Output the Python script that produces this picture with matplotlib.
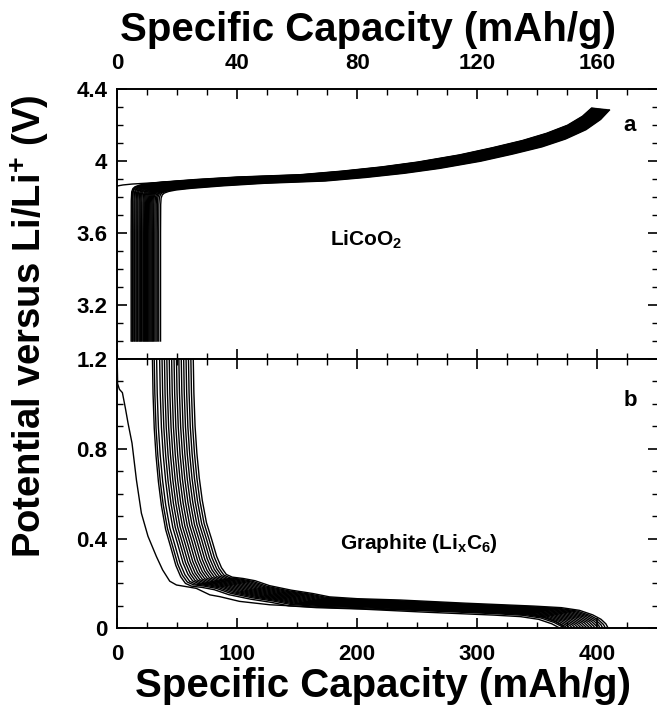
import matplotlib
matplotlib.use("Agg")
import matplotlib.pyplot as plt
import numpy as np
from matplotlib.ticker import MultipleLocator, FixedLocator, FuncFormatter

# ---------------- data ----------------
# LiCoO2 reference charge curve (earliest-start cycle), capacity mAh/g vs V
lc_cap = [4.7, 4.7, 4.75, 4.9, 5.3, 6.0, 7.5, 10, 15, 26, 40, 61, 75, 88, 100, 114, 125, 135, 143, 150, 155, 158]
lc_volt = [3.0, 3.6, 3.78, 3.83, 3.848, 3.858, 3.867, 3.875, 3.884, 3.898, 3.912, 3.925, 3.945,
           3.968, 3.995, 4.035, 4.075, 4.115, 4.155, 4.20, 4.25, 4.295]
# how strongly the per-cycle voltage offset applies along the curve
lc_dv_weight = [0, 0, 0.6, 1, 1, 1, 1, 1, 1, 1, 1, 1, 1, 1, 1, 1, 1, 1, 0.9, 0.7, 0.5, 0.3]
# per-cycle start / end capacity and voltage offset (LiCoO2)
lc_start = [4.7, 5.0, 5.2, 5.6, 5.9, 6.3, 6.6, 6.9, 7.3, 7.6, 7.9, 8.2, 8.6, 8.9, 9.2, 9.5,
            9.8, 10.1, 10.4, 10.7, 11.0, 11.3, 11.6, 11.9, 12.2, 12.6, 13.0, 13.4, 13.9, 14.5]
lc_end = [158.0, 158.2, 158.4, 158.6, 158.8, 159.0, 159.2, 159.4, 159.6, 159.8, 160.0, 160.2,
          160.4, 160.6, 160.8, 161.0, 161.2, 161.4, 161.6, 161.8, 162.0, 162.2, 162.4, 162.6,
          162.8, 163.0, 163.2, 163.5, 163.8, 164.0]
lc_dv = [0.0, 0.001, 0.002, 0.004, 0.005, 0.006, 0.008, 0.009, 0.010, 0.012, 0.013, 0.014,
         0.016, 0.017, 0.018, 0.019, 0.021, 0.022, 0.023, 0.024, 0.025, 0.026, 0.027, 0.028,
         0.029, 0.030, 0.031, 0.032, 0.033, 0.035]
# LiCoO2 first charge (from open circuit)
lc1_cap = [0, 2, 5, 10, 20, 30]
lc1_volt = [3.862, 3.868, 3.873, 3.878, 3.888, 3.896]

# Graphite reference discharge curve (latest-start cycle)
gr_cap = [63.5, 64.0, 65.0, 66.5, 68.5, 71.0, 74.5, 78.6, 83.0, 87.0, 91.0, 96.0, 105, 115, 127,
          145, 163, 177, 200, 236, 290, 347, 370, 385, 396, 403, 407, 409]
gr_volt = [1.20, 1.05, 0.90, 0.78, 0.67, 0.57, 0.47, 0.40, 0.32, 0.27, 0.24, 0.228, 0.222, 0.212,
           0.19, 0.17, 0.155, 0.14, 0.132, 0.126, 0.112, 0.099, 0.092, 0.08, 0.06, 0.04, 0.02, 0.0]
gr_dv_weight = [0, 0.1, 0.2, 0.3, 0.45, 0.6, 0.75, 0.9, 1, 1, 1, 1, 1, 1, 1,
                1, 1, 1, 1, 1, 1, 1, 1, 1, 1, 1, 1, 1]
gr_start = [29.5, 31.0, 33.0, 35.5, 37.5, 39.5, 41.5, 43.5, 45.5, 47.5, 49.5, 51.5, 53.5, 55.5,
            57.5, 59.5, 61.5, 63.5]
gr_end = [375, 377, 379, 381, 383, 385, 387, 389, 391, 393, 395, 397, 399, 401, 403, 405, 407, 409]
gr_dv = [0.040, 0.034, 0.031, 0.029, 0.027, 0.025, 0.023, 0.021, 0.019, 0.017, 0.015, 0.013,
         0.011, 0.009, 0.007, 0.005, 0.003, 0.0]
# Graphite first cycle
gr1_cap = [0, 0.5, 2, 4.5, 7, 9.2, 12.5, 16.2, 20.3, 25.8, 32.8, 38, 43.9, 49.5, 60.6, 66, 77.3,
           85.6, 102, 127, 160, 200, 250, 300, 340, 355, 365, 370, 373]
gr1_volt = [1.25, 1.09, 1.065, 1.05, 0.98, 0.914, 0.825, 0.66, 0.513, 0.41, 0.32, 0.26, 0.21,
            0.193, 0.183, 0.178, 0.149, 0.141, 0.12, 0.105, 0.096, 0.088, 0.080, 0.074, 0.066,
            0.05, 0.03, 0.015, 0.0]

top_xticks = [0, 40, 80, 120, 160]
top_yticks = [3.2, 3.6, 4.0, 4.4]
bot_xticks = [0, 100, 200, 300, 400]
bot_yticks = [0, 0.4, 0.8, 1.2]

# ---------------- style ----------------
plt.rcParams['font.family'] = ['Liberation Sans', 'DejaVu Sans']
plt.rcParams['font.weight'] = 'bold'
plt.rcParams['mathtext.fontset'] = 'custom'
plt.rcParams['mathtext.rm'] = 'Liberation Sans:bold'
plt.rcParams['mathtext.it'] = 'Liberation Sans:bold'
plt.rcParams['mathtext.bf'] = 'Liberation Sans:bold'

W, H = 657, 708
fig = plt.figure(figsize=(W / 100, H / 100), dpi=100)

x0 = 117 / W
wax = (657.5 - 117) / W
ax1 = fig.add_axes([x0, (H - 359) / H, wax, (359 - 89.3) / H])
ax2 = fig.add_axes([x0, (H - 628.3) / H, wax, (628.3 - 359) / H])

LW = 1.0
col = 'black'


def family(base_c, base_v, weight, starts, ends, dvs):
    bc = np.asarray(base_c, float)
    bv = np.asarray(base_v, float)
    w = np.asarray(weight, float)
    span = bc[-1] - bc[0]
    out = []
    for s, e, dv in zip(starts, ends, dvs):
        c = s + (bc - bc[0]) * (e - s) / span
        out.append((c, bv - dv * w))
    return out


for c, v in family(lc_cap, lc_volt, lc_dv_weight, lc_start, lc_end, lc_dv):
    ax1.plot(c, v, color=col, lw=LW, solid_joinstyle='round')
ax1.plot(lc1_cap, lc1_volt, color=col, lw=LW)

for c, v in family(gr_cap, gr_volt, gr_dv_weight, gr_start, gr_end, gr_dv):
    ax2.plot(c, v, color=col, lw=LW)
ax2.plot(gr1_cap, gr1_volt, color=col, lw=LW)

fmt = FuncFormatter(lambda val, pos: ('%g' % round(val, 3)))

# top panel axes
ax1.set_xlim(0, 180)
ax1.set_ylim(2.9, 4.4)
ax1.xaxis.set_major_locator(FixedLocator(top_xticks))
ax1.xaxis.set_minor_locator(MultipleLocator(10))
ax1.yaxis.set_major_locator(FixedLocator(top_yticks))
ax1.yaxis.set_minor_locator(MultipleLocator(0.1))
ax1.yaxis.set_major_formatter(fmt)
ax1.tick_params(which='both', direction='in', top=True, bottom=True, left=True, right=True,
                labeltop=True, labelbottom=False, labelleft=True, labelright=False)

# bottom panel axes
ax2.set_xlim(0, 450)
ax2.set_ylim(0, 1.2)
ax2.xaxis.set_major_locator(FixedLocator(bot_xticks))
ax2.xaxis.set_minor_locator(MultipleLocator(25))
ax2.yaxis.set_major_locator(FixedLocator(bot_yticks))
ax2.yaxis.set_minor_locator(MultipleLocator(0.1))
ax2.yaxis.set_major_formatter(fmt)
ax2.tick_params(which='both', direction='in', top=True, bottom=True, left=True, right=True,
                labeltop=False, labelbottom=True, labelleft=True, labelright=False)

for ax in (ax1, ax2):
    ax.tick_params(which='major', length=7, width=1.2, labelsize=16)
    ax.tick_params(which='minor', length=4, width=1.0)
    ax.tick_params(axis='x', which='major', pad=11)
    ax.tick_params(axis='y', which='major', pad=7)
    for sp in ax.spines.values():
        sp.set_linewidth(1.4)
    for lab in ax.get_xticklabels() + ax.get_yticklabels():
        lab.set_fontweight('bold')

# labels
fig.text(368 / W, 1 - 30 / H, 'Specific Capacity (mAh/g)', ha='center', va='center',
         fontsize=29, fontweight='bold')
fig.text(383 / W, 1 - 686 / H, 'Specific Capacity (mAh/g)', ha='center', va='center',
         fontsize=29, fontweight='bold')
fig.text(30 / W, 1 - 326 / H, 'Potential versus Li/Li$^{+}$ (V)', ha='center', va='center',
         rotation=90, fontsize=27.5, fontweight='bold')

ax1.text(71, 3.56, 'LiCoO$_2$', ha='left', va='center', fontsize=15, fontweight='bold')
ax1.text(170.6, 4.2, 'a', ha='center', va='center', fontsize=16, fontweight='bold')
ax2.text(186, 0.38, 'Graphite (Li$_x$C$_6$)', ha='left', va='center', fontsize=15, fontweight='bold')
ax2.text(427, 1.016, 'b', ha='center', va='center', fontsize=16, fontweight='bold')

fig.savefig('out.png', dpi=100)
